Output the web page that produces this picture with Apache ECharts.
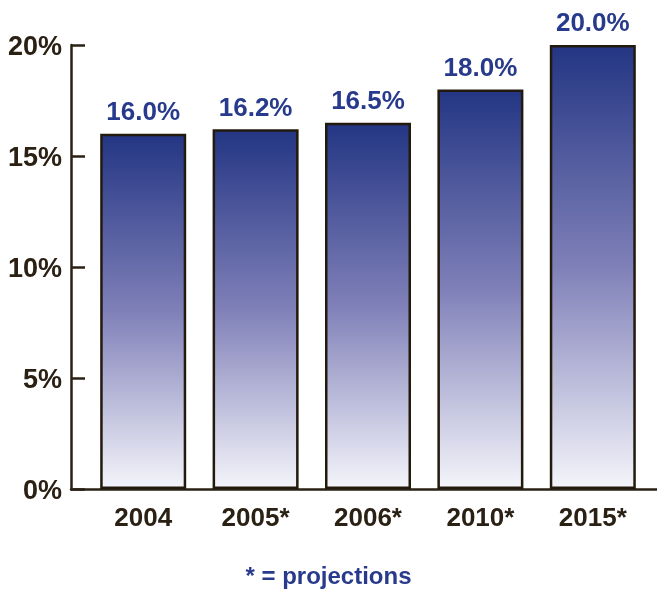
<!DOCTYPE html>
<html><head><meta charset="utf-8">
<script src="https://cdn.jsdelivr.net/npm/echarts@6/dist/echarts.min.js"></script>
<style>html,body{margin:0;padding:0;background:#fff}#c{width:657px;height:589px}</style>
</head><body><div id="c"></div>
<script>
const categories = ['2004', '2005*', '2006*', '2010*', '2015*'];
const values = [16.0, 16.2, 16.5, 18.0, 20.0];
const yTicks = [0, 5, 10, 15, 20];
const footnote = '* = projections';

const dark = '#2a2013';
const blue = '#283a8c';
const font = '"Liberation Sans", Arial, sans-serif';

const chart = echarts.init(document.getElementById('c'));
chart.setOption({
  animation: false,
  title: {
    text: footnote, left: 'center', top: 560,
    textStyle: { color: blue, fontSize: 24, fontWeight: 'bold', fontFamily: font }
  },
  grid: [
    { left: 87, right: 8, top: 45, bottom: 100 },
    { left: 71, right: 0, top: 45, bottom: 100 }
  ],
  xAxis: [
    {
      type: 'category', data: categories, gridIndex: 0,
      axisLine: { show: false }, axisTick: { show: false },
      axisLabel: { color: dark, fontSize: 26, fontWeight: 'bold', fontFamily: font, margin: 17 }
    },
    {
      type: 'value', gridIndex: 1, min: 0, max: 1,
      axisLine: { show: true, lineStyle: { color: dark, width: 2.5 } },
      axisTick: { show: false }, axisLabel: { show: false }, splitLine: { show: false }
    }
  ],
  yAxis: [
    {
      type: 'value', gridIndex: 0, min: yTicks[0], max: yTicks[yTicks.length - 1], interval: 5,
      offset: 16,
      axisLine: { show: true, lineStyle: { color: dark, width: 2.5 } },
      axisTick: { show: true, inside: true, length: 14, lineStyle: { color: dark, width: 2.5 } },
      splitLine: { show: false },
      axisLabel: { color: dark, fontSize: 27, fontWeight: 'bold', fontFamily: font, margin: 9,
        formatter: v => '{v|' + v + '%}',
        rich: { v: { color: dark, fontSize: 27, fontWeight: 'bold', fontFamily: font, padding: [6, 0, 0, 0] } } }
    },
    { type: 'value', gridIndex: 1, show: false, min: 0, max: 1 }
  ],
  series: [{
    type: 'bar', xAxisIndex: 0, yAxisIndex: 0,
    data: values, barWidth: 86,
    itemStyle: {
      borderColor: '#231a0e', borderWidth: 2.5,
      color: new echarts.graphic.LinearGradient(0, 0, 0, 1, [
        { offset: 0, color: '#233583' },
        { offset: 0.5, color: '#7f80b8' },
        { offset: 1, color: '#f5f5fb' }
      ])
    },
    label: {
      show: true, position: 'top', distance: 8,
      color: blue, fontSize: 26, fontWeight: 'bold', fontFamily: font,
      formatter: p => p.value.toFixed(1) + '%'
    }
  }]
});
</script></body></html>
